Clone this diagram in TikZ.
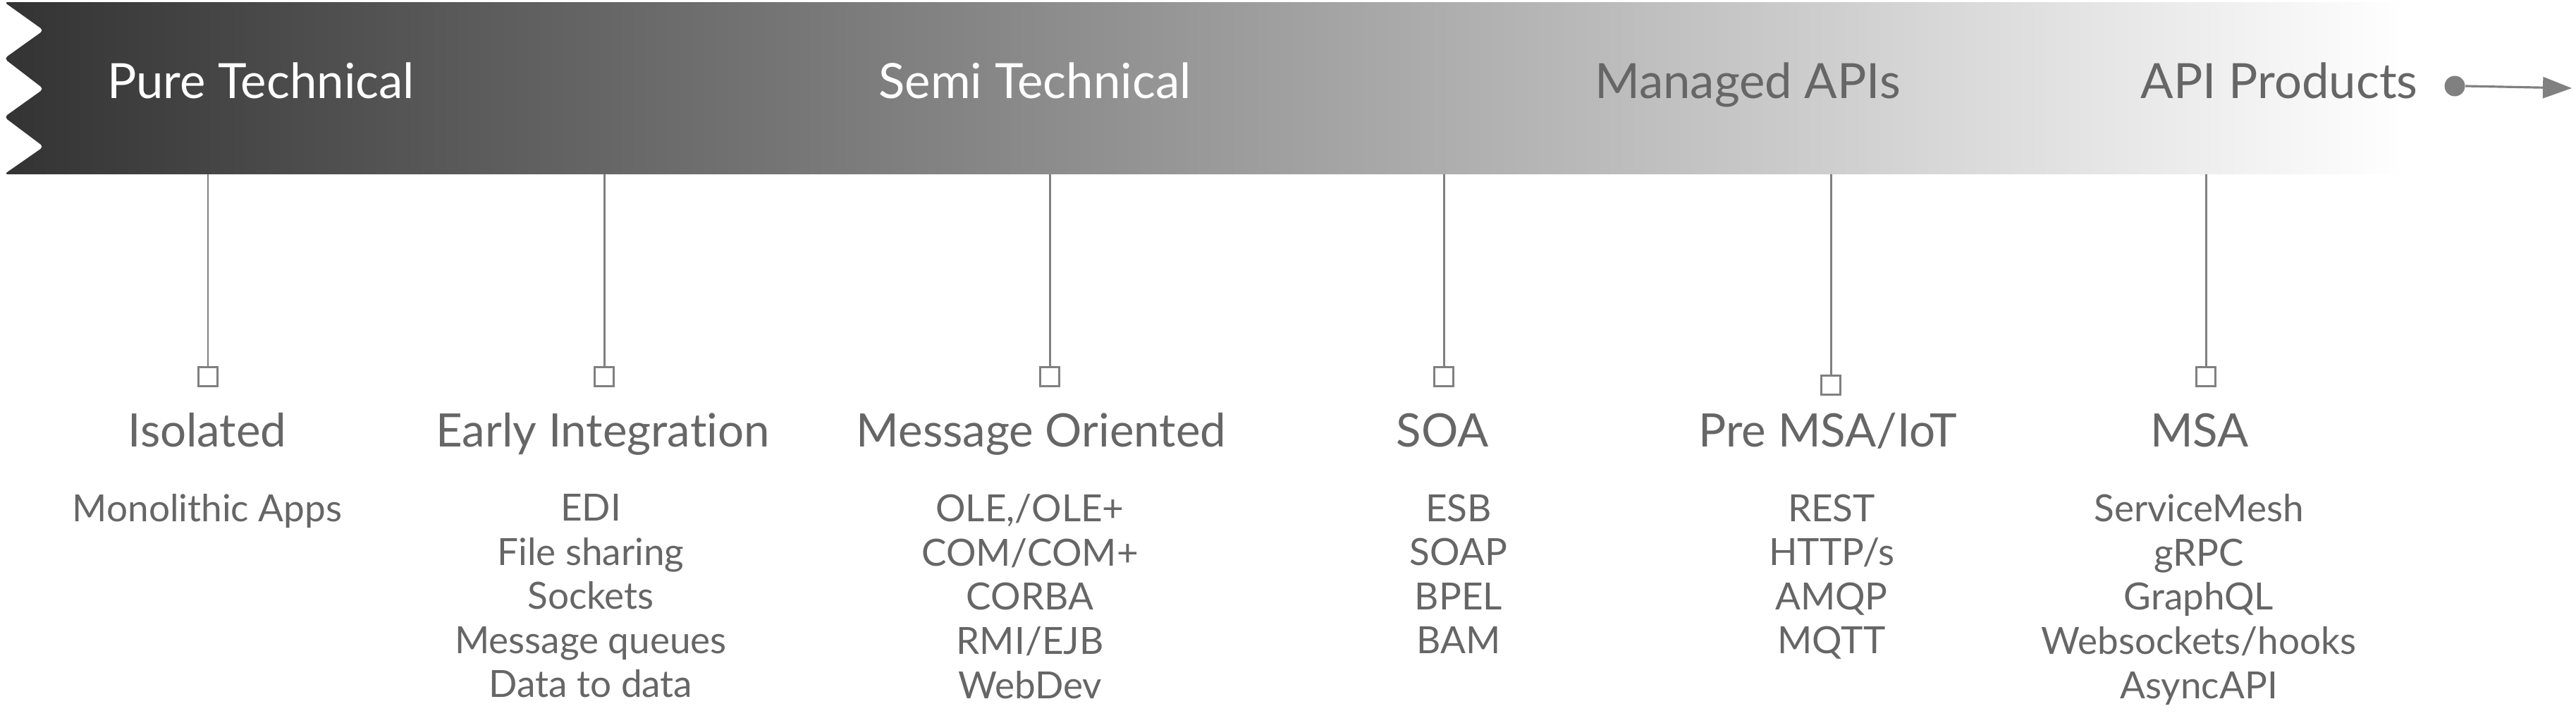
\documentclass[tikz,border=0pt]{standalone}
\usepackage{fontspec}
\setmainfont{Lato}[Ligatures=NoCommon]
\usetikzlibrary{arrows.meta}

\definecolor{banddark}{HTML}{333333}
\definecolor{textgray}{HTML}{666666}
\definecolor{linegray}{HTML}{808080}

\tikzset{
  phase/.style={anchor=base, inner sep=0pt, font=\fontsize{19.6}{23}\selectfont},
  era/.style={anchor=base, inner sep=0pt, text=textgray, font=\fontsize{18.6}{23}\selectfont},
  tech/.style={anchor=north, align=center, inner sep=0pt, text=textgray,
    font=\fontsize{15.1}{17.8}\selectfont},
  pin/.style={draw=linegray, line width=0.85pt, fill=white, minimum size=0.27cm, inner sep=0pt},
  stem/.style={draw=linegray, line width=0.85pt}
}

\begin{document}
\begin{tikzpicture}
\useasboundingbox (0,0) rectangle (36.54,-10.24);

% the band with its torn left edge
\shade[left color=banddark, right color=white, rounded corners=1.5pt]
  (0.06,-0.03) -- (34.1,-0.03) -- (34.1,-2.47) -- (0.06,-2.47)
  -- (0.62,-2.08) -- (0.06,-1.66) -- (0.62,-1.26) -- (0.06,-0.83)
  -- (0.62,-0.43) -- cycle;

\node[phase, text=white] (pure) at (3.70,-1.39) {Pure Technical};
\node[phase, text=white] (semi) at (14.68,-1.39) {Semi Technical};
\node[phase, text=textgray] (managed) at (24.79,-1.39) {Managed APIs};
\node[phase, text=textgray] (products) at (32.33,-1.39) {API Products};

\node[circle, fill=linegray, minimum size=0.29cm, inner sep=0pt] (dot) at (34.82,-1.22) {};
\coordinate (tip) at (36.48,-1.25);
\draw[linegray, line width=0.9pt, -{Triangle[length=0.41cm,width=0.30cm]}] (dot.east) -- (tip);

% stems from the band down to the pins
\coordinate (b1) at (2.95,-2.47);
\coordinate (b2) at (8.57,-2.47);
\coordinate (b3) at (14.89,-2.47);
\coordinate (b4) at (20.48,-2.47);
\coordinate (b5) at (25.97,-2.47);
\coordinate (b6) at (31.29,-2.47);

\node[pin] (p1) at (2.95,-5.34) {};
\node[pin] (p2) at (8.57,-5.34) {};
\node[pin] (p3) at (14.89,-5.34) {};
\node[pin] (p4) at (20.48,-5.34) {};
\node[pin] (p5) at (25.97,-5.46) {};
\node[pin] (p6) at (31.29,-5.34) {};

\draw[stem] (b1) -- (p1.north);
\draw[stem] (b2) -- (p2.north);
\draw[stem] (b3) -- (p3.north);
\draw[stem] (b4) -- (p4.north);
\draw[stem] (b5) -- (p5.north);
\draw[stem] (b6) -- (p6.north);

% eras
\node[era] (isolated) at (2.94,-6.33) {Isolated};
\node[era] (early) at (8.55,-6.33) {Early Integration};
\node[era] (message) at (14.77,-6.33) {Message Oriented};
\node[era] (soa) at (20.46,-6.33) {SOA};
\node[era] (premsa) at (25.93,-6.33) {Pre MSA/IoT};
\node[era] (msa) at (31.20,-6.33) {MSA};

% technologies
\node[tech] (t1) at (2.94,-7.00) {Monolithic Apps};
\node[tech] (t2) at (8.38,-7.00) {EDI\\File sharing\\Sockets\\Message queues\\Data to data};
\node[tech] (t3) at (14.61,-7.00) {OLE,/OLE+\\COM/COM+\\CORBA\\RMI/EJB\\WebDev};
\node[tech] (t4) at (20.69,-7.00) {ESB\\SOAP\\BPEL\\BAM};
\node[tech] (t5) at (25.98,-7.00) {REST\\HTTP/s\\AMQP\\MQTT};
\node[tech] (t6) at (31.19,-7.00) {ServiceMesh\\gRPC\\GraphQL\\Websockets/hooks\\AsyncAPI};
\end{tikzpicture}
\end{document}
